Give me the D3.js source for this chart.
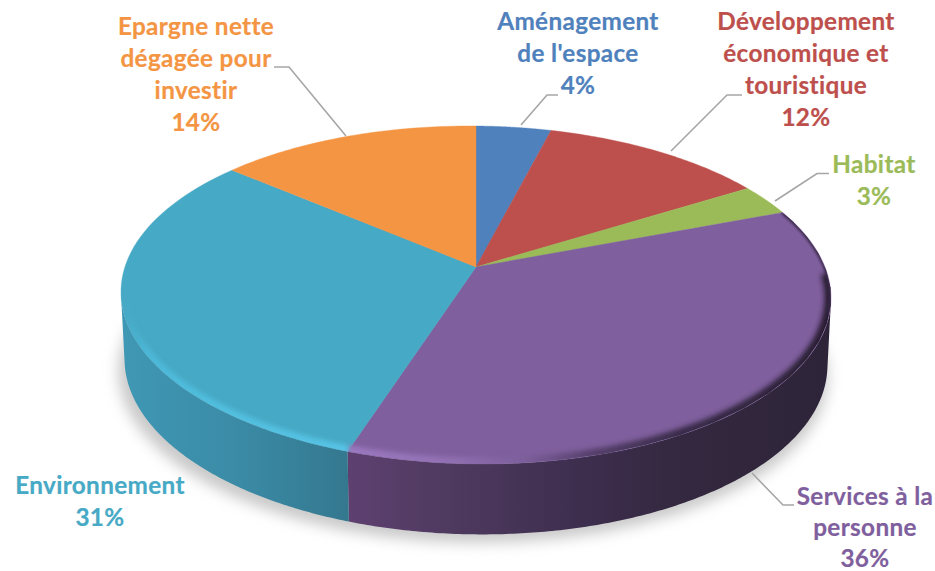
<!DOCTYPE html>
<html><head><meta charset="utf-8">
<script src="https://cdn.jsdelivr.net/npm/d3@7"></script>
<style>html,body{margin:0;background:#fff}svg{display:block}</style>
</head><body><svg id="c" width="935" height="571"></svg>
<script>
const categories=["Aménagement de l'espace","Développement économique et touristique","Habitat","Services à la personne","Environnement","Epargne nette dégagée pour investir"];
const values=[4,12,3,36,31,14];
const colors=["#4f81bd","#bd4f4c","#9bbb59","#7f5f9d","#46a9c5","#f49543"];
const labelLines=[["Aménagement","de l'espace","4%"],["Développement","économique et","touristique","12%"],["Habitat","3%"],["Services à la","personne","36%"],["Environnement","31%"],["Epargne nette","dégagée pour","investir","14%"]];
const labelX=[578,806,874,865,100,196];
const labelY=[30,30,173,505,494,35];
const lineH=[32,32,32,31,32,32];
const leaders=[[[521,125],[547,95],[558,95]],[[671,151],[727,95],[742,95]],[[775,201],[817,173.5],[829,173.5]],[[752,473],[783,505],[794,505]],[],[[346,136],[289,67],[274,67]]];

const svg=d3.select("#c");
const cx=476,cy=295,rx=355,ry=169,depth=67,a=-0.166,tilt=0.0085;
const sx=d3.scaleLinear().domain([-1,1]).range([cx-rx,cx+rx]);
const sy=d3.scaleLinear().domain([-1,1]).range([cy-ry,cy+ry]);
// perspective of the tilted disc: keeps the rim an ellipse, moves its centre
function proj(t){const X=Math.sin(t),Y=-Math.cos(t),w=1+a*Y;return [(X*Math.sqrt(1-a*a))/w,(Y+a)/w];}
const pt=t=>{const p=proj(t),x=sx(p[0]);return [x,sy(p[1])+(x-cx)*tilt];};
const pieGen=d3.pie().sort(null).value(d=>d);
const arcs=pieGen(values);
const line=d3.line();
const samples=(t0,t1)=>d3.range(0,61).map(i=>t0+(t1-t0)*i/60);
const fine=(d,minY)=>d3.range(0,241).map(k=>d.startAngle+(d.endAngle-d.startAngle)*k/240).filter(t=>proj(t)[1]>=minY);

const defs=svg.append("defs");
const addBlur=(id,s)=>defs.append("filter").attr("id",id).attr("x","-20%").attr("y","-20%").attr("width","140%").attr("height","140%").append("feGaussianBlur").attr("stdDeviation",s);
addBlur("sh",7);addBlur("b2",2.4);addBlur("b1",1);
const grad=(id,x1,x2,stops)=>{const g=defs.append("linearGradient").attr("id",id).attr("gradientUnits","userSpaceOnUse").attr("x1",x1).attr("x2",x2).attr("y1",0).attr("y2",0);
  stops.forEach(s=>g.append("stop").attr("offset",s[0]).attr("stop-color",s[1]));};
grad("wallT",121,349,[[0,"#3f98b5"],[.5,"#3b8ba6"],[1,"#34788f"]]);
grad("wallP",349,831,[[0,"#5e4070"],[.2,"#4f3a60"],[.45,"#3f2f50"],[.7,"#33283f"],[1,"#2e2439"]]);
grad("rimT",121,349,[[0,"#46a9c5"],[.015,"#46a9c5"],[.12,"#4db8d8"],[.3,"#50bddd"],[1,"#58c4e6"]]);
grad("rimP",349,831,[[0,"#9c78c0"],[.2,"#9271b4"],[.36,"#7d5f9c"],[.5,"#56406c"],[.68,"#3a2c4a"],[1,"#281e32"]]);
defs.append("clipPath").attr("id","topClip").append("path")
  .attr("d",line(samples(0,2*Math.PI).map(pt))+"Z");

// soft shadow on the ground
svg.append("path")
  .attr("d",line(samples(0,2*Math.PI).map(t=>{const p=pt(t);return [p[0]-3,p[1]+depth+12];}))+"Z")
  .attr("fill","#c9c9c9").attr("filter","url(#sh)");

// side wall, front half only
const bottomPt=p=>[cx+(p[0]-cx)*0.99,cy+depth+(p[1]-cy)*1.02];
const wallFill={3:"url(#wallP)",4:"url(#wallT)"};
const rimFill={3:"url(#rimP)",4:"url(#rimT)"};
const rimFrom={3:-0.15,4:-0.02};
arcs.forEach((d,i)=>{
  if(!wallFill[i])return;
  const pts=fine(d,0.02).map(pt);
  const low=pts.slice().reverse().map(bottomPt);
  svg.append("path").attr("d",line(pts.concat(low))+"Z").attr("fill",wallFill[i]);
});

// top face
const topFace=svg.append("g");
arcs.forEach((d,i)=>{
  const rim=samples(d.startAngle,d.endAngle).map(pt);
  topFace.append("path").attr("d",line([[sx(0),sy(a)]].concat(rim))+"Z")
    .attr("fill",colors[i]).attr("stroke",colors[i]).attr("stroke-width",.4).attr("data-name",categories[i]);
});

// bevel on the front rim
const bevel=svg.append("g").attr("clip-path","url(#topClip)");
arcs.forEach((d,i)=>{
  if(!rimFill[i])return;
  bevel.append("path").attr("d",line(fine(d,rimFrom[i]).map(pt))).attr("fill","none").attr("stroke",rimFill[i]).attr("stroke-width",i===3?13:12).attr("filter","url(#b2)");
});
// thin dark edge on the upper right of the purple slice
bevel.append("path").attr("d",line(fine(arcs[3],-0.62).filter(t=>proj(t)[1]<0.1&&proj(t)[0]>0).map(pt))).attr("fill","none").attr("stroke","#3a2c4a").attr("stroke-width",4).attr("filter","url(#b1)");

// leaders
leaders.forEach(l=>{ if(l.length) svg.append("path").attr("d",line(l)).attr("fill","none").attr("stroke","#a6a6a6").attr("stroke-width",1.6);});

// labels
labelLines.forEach((ls,i)=>{
  const t=svg.append("text").attr("text-anchor","middle").attr("font-family","Lato, sans-serif").attr("font-weight",700).attr("font-size",24.3).attr("letter-spacing",.35).attr("stroke",colors[i]).attr("stroke-width",.2).attr("fill",colors[i]);
  ls.forEach((s,k)=>t.append("tspan").attr("x",labelX[i]).attr("y",labelY[i]+k*lineH[i]).text(s));
});
</script></body></html>
